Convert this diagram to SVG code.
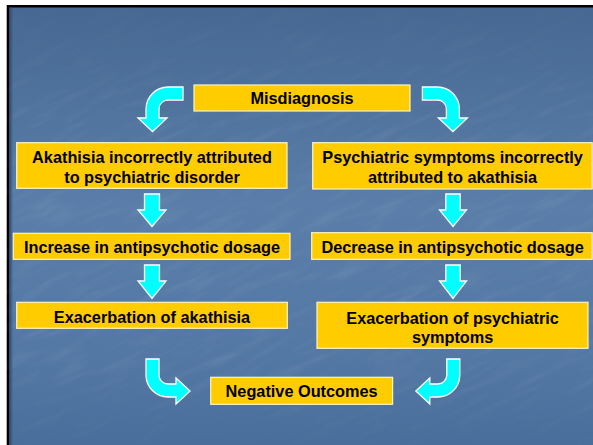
<svg xmlns="http://www.w3.org/2000/svg" width="593" height="445" viewBox="0 0 593 445">
<defs>
<linearGradient id="bg" x1="0" y1="0" x2="0" y2="1">
<stop offset="0" stop-color="#466892"/>
<stop offset="0.45" stop-color="#5A7EA9"/>
<stop offset="0.8" stop-color="#5478A4"/>
<stop offset="1" stop-color="#4A6E9B"/>
</linearGradient>
<linearGradient id="edge" x1="0" y1="0" x2="1" y2="0">
<stop offset="0" stop-color="#2E4A6E"/>
<stop offset="1" stop-color="#2E4A6E" stop-opacity="0"/>
</linearGradient>
<linearGradient id="fade" x1="0" y1="0" x2="0" y2="1">
<stop offset="0" stop-color="#fff" stop-opacity="0.2"/>
<stop offset="0.35" stop-color="#fff" stop-opacity="1"/>
<stop offset="0.8" stop-color="#fff" stop-opacity="1"/>
<stop offset="1" stop-color="#fff" stop-opacity="0.2"/>
</linearGradient>
<mask id="m"><rect x="0" y="0" width="593" height="445" fill="url(#fade)"/></mask>
<filter id="tex" x="0" y="0" width="1" height="1">
<feTurbulence type="fractalNoise" baseFrequency="0.02 0.12" numOctaves="3" seed="4" result="n"/>
<feColorMatrix type="matrix" values="0 0 0 0 1  0 0 0 0 1  0 0 0 0 1  0 0 0 1.2 -0.55"/>
</filter>
</defs>
<style>
.box{fill:#FFCC00;stroke:#FFF3C0;stroke-width:1.2}
.arr{fill:#00FFFF;stroke:#FFFFFF;stroke-width:1.3;stroke-linejoin:miter}
.t{font-family:"Liberation Sans",Arial,sans-serif;font-weight:bold;font-size:16.3px;fill:#000;text-anchor:middle}
</style>
<rect x="0" y="0" width="593" height="445" fill="#FFFFFF"/>
<rect x="6.7" y="5" width="586.3" height="440" fill="#000000"/>
<rect x="9.3" y="7.5" width="583.7" height="437.5" fill="url(#bg)"/>
<g mask="url(#m)">
<g transform="rotate(-25 300 220)" opacity="0.12">
<rect x="-150" y="-150" width="900" height="750" filter="url(#tex)"/>
</g>
</g>
<rect x="9.3" y="7.5" width="4" height="437.5" fill="url(#edge)"/>

<g id="connectors">
<path class="arr" d="M183,87 L168,87 A22,22 0 0 0 146,109 L146,118 L138,118 L152.5,131.5 L167,118 L159,118 L159,109 A9,9 0 0 1 168,100 L183,100 Z"/>
<path class="arr" d="M422.4,87 L437.4,87 A22,22 0 0 1 459.4,109 L459.4,118 L467.4,118 L452.9,131.5 L438.4,118 L446.4,118 L446.4,109 A9,9 0 0 0 437.4,100 L422.4,100 Z"/>
<path class="arr" d="M144.5,194 L159.5,194 L159.5,210 L166,210 L152,226.5 L138,210 L144.5,210 Z"/>
<path class="arr" d="M144.5,265 L159.5,265 L159.5,281 L166,281 L152,298.5 L138,281 L144.5,281 Z"/>
<path class="arr" d="M445.8,194 L460.2,194 L460.2,210 L466.5,210 L453,226.5 L439.5,210 L445.8,210 Z"/>
<path class="arr" d="M445.8,265 L460.2,265 L460.2,281 L466.5,281 L453,298.5 L439.5,281 L445.8,281 Z"/>
<path class="arr" d="M146,359 L159,359 L159,375 A9,9 0 0 0 168,384 L176,384 L176,378 L190,391 L176,404 L176,397 L168,397 A22,22 0 0 1 146,375 Z"/>
<path class="arr" d="M459.8,359 L446.8,359 L446.8,375 A9,9 0 0 1 437.8,384 L429.8,384 L429.8,378 L415.8,391 L429.8,404 L429.8,397 L437.8,397 A22,22 0 0 0 459.8,375 Z"/>
</g>

<g id="misdiagnosis">
<rect class="box" x="194" y="85" width="216" height="26"/>
<text class="t" x="302" y="104">Misdiagnosis</text>
</g>
<g id="akathisia-attributed">
<rect class="box" x="16.7" y="142.7" width="270.3" height="45.6"/>
<text class="t" x="152" y="162.5">Akathisia incorrectly attributed</text>
<text class="t" x="152" y="182.5">to psychiatric disorder</text>
</g>
<g id="psychiatric-attributed">
<rect class="box" x="312.7" y="142.7" width="279.5" height="46.3"/>
<text class="t" x="452.6" y="162.5">Psychiatric symptoms incorrectly</text>
<text class="t" x="452.6" y="182.5">attributed to akathisia</text>
</g>
<g id="increase-dosage">
<rect class="box" x="13.3" y="233.3" width="276.7" height="26"/>
<text class="t" x="152" y="252.8">Increase in antipsychotic dosage</text>
</g>
<g id="decrease-dosage">
<rect class="box" x="311.7" y="232.7" width="280.5" height="26.6"/>
<text class="t" x="452.6" y="252.8">Decrease in antipsychotic dosage</text>
</g>
<g id="exacerbation-akathisia">
<rect class="box" x="16.7" y="302.3" width="270.6" height="26"/>
<text class="t" x="152" y="322.5">Exacerbation of akathisia</text>
</g>
<g id="exacerbation-psychiatric">
<rect class="box" x="317" y="302.3" width="271" height="46"/>
<text class="t" x="452.6" y="323.5">Exacerbation of psychiatric</text>
<text class="t" x="452.6" y="342.5">symptoms</text>
</g>
<g id="negative-outcomes">
<rect class="box" x="210.7" y="377.3" width="181.9" height="27"/>
<text class="t" x="301.6" y="397">Negative Outcomes</text>
</g>
</svg>
